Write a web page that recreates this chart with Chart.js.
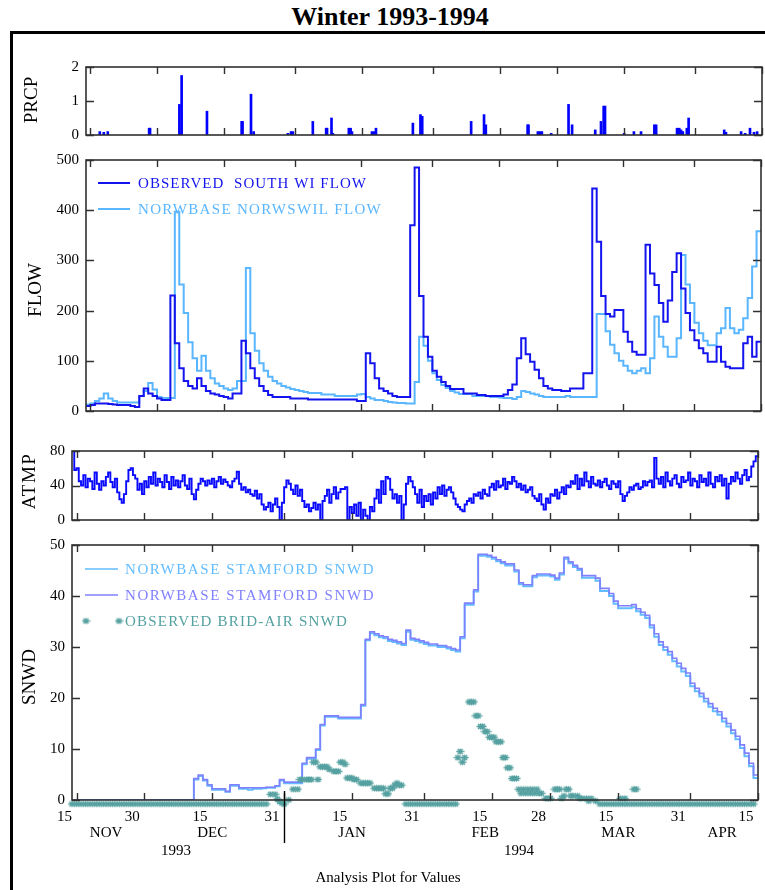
<!DOCTYPE html>
<html lang="en">
<head>
<meta charset="UTF-8">
<title>Winter 1993-1994</title>
<script src="https://cdn.jsdelivr.net/npm/chart.js"></script>
<style>
    body { margin: 0; background: #fff; width: 765px; height: 890px; overflow: hidden; position: relative; font-family: 'Liberation Serif', 'Times New Roman', serif; }
    canvas { position: absolute; left: 0; top: 0; }
    #frame { position: absolute; left: 10px; top: 31px; width: 820px; height: 900px; border-left: 3px solid #000; border-top: 3px solid #000; }
    #title { position: absolute; left: 0; top: 4px; width: 780px; text-align: center; font-weight: bold; font-size: 26px; line-height: 26px; }
    #caption { position: absolute; left: 0; top: 868px; width: 776px; text-align: center; font-size: 15px; line-height: 18px; }
</style>
</head>
<body>
<div id="frame"></div>
<div id="title">Winter 1993-1994</div>
<canvas id="prcpChart" width="765" height="890"></canvas>
<canvas id="flowChart" width="765" height="890"></canvas>
<canvas id="atmpChart" width="765" height="890"></canvas>
<canvas id="snwdChart" width="765" height="890"></canvas>
<div id="caption">Analysis Plot for Values</div>

<script>
    // x axis: days counted from Nov 15 1993 (0) to the end of Apr 15 1994 (152)
    const tickDays = [1, 16, 31, 47, 62, 78, 93, 106, 121, 137, 152];
    const tickLabels = ['15', '30', '15', '31', '15', '31', '15', '28', '15', '31', '15'];
    const months = ['NOV', 'DEC', 'JAN', 'FEB', 'MAR', 'APR'];
    const monthMid = [8, 31.5, 62.5, 92, 121.5, 144.5];
    const years = ['1993', '1994'];
    const yearMid = [23.5, 99.5];

    // precipitation events (day, inches)
    const prcpDay = [3.1, 4.0, 4.9, 14.2, 14.4, 21.0, 21.5, 27.2, 35.0, 35.2, 37.1, 37.7, 45.4, 46.1, 46.5, 51.0,
        54.0, 54.2, 55.2, 55.5, 59.1, 59.5, 59.8, 64.3, 64.8, 65.2, 73.5, 75.2, 75.6, 86.6, 89.5, 89.9, 99.3, 99.5,
        101.6, 102.1, 102.5, 104.6, 108.5, 109.3, 114.5, 115.8, 116.4, 116.7, 121.0, 123.2, 124.8, 127.8, 128.2,
        132.9, 133.4, 133.8, 134.2, 135.1, 135.5, 143.5, 143.9, 147.3, 148.2, 149.3, 150.2, 150.9];
    const prcpVal = [0.1, 0.08, 0.1, 0.2, 0.2, 0.9, 1.75, 0.7, 0.4, 0.4, 1.2, 0.1, 0.05, 0.1, 0.1, 0.4,
        0.2, 0.2, 0.5, 0.05, 0.2, 0.2, 0.1, 0.1, 0.1, 0.2, 0.35, 0.6, 0.55, 0.4, 0.6, 0.3, 0.3, 0.3,
        0.1, 0.1, 0.1, 0.05, 0.9, 0.3, 0.15, 0.4, 0.85, 0.85, 0.05, 0.1, 0.1, 0.3, 0.3,
        0.2, 0.2, 0.15, 0.1, 0.2, 0.5, 0.15, 0.08, 0.1, 0.05, 0.2, 0.08, 0.1];

    // daily flow, one value per day
    const flowObserved = [
        10, 12, 15, 15, 15, 14, 13, 12, 12, 12,
        10, 8, 30, 45, 35, 30, 25, 22, 22, 230,
        135, 85, 60, 50, 45, 65, 50, 40, 35, 33,
        30, 28, 25, 35, 35, 140, 115, 85, 65, 50,
        40, 32, 28, 28, 28, 28, 25, 25, 25, 25,
        23, 23, 23, 23, 23, 23, 23, 23, 23, 23,
        23, 20, 20, 115, 95, 65, 45, 40, 35, 30,
        28, 28, 28, 370, 485, 229, 148, 108, 80, 68,
        58, 50, 44, 44, 44, 35, 35, 35, 32, 32,
        30, 30, 30, 30, 33, 42, 53, 105, 145, 113,
        98, 82, 65, 50, 45, 42, 42, 40, 40, 45,
        45, 45, 75, 75, 443, 337, 229, 193, 188, 201,
        201, 158, 138, 118, 112, 112, 331, 274, 251, 215,
        178, 220, 277, 314, 244, 195, 161, 141, 125, 115,
        98, 98, 128, 98, 88, 85, 85, 85, 135, 148,
        108, 138];
    const flowNorwbase = [
        13, 15, 20, 25, 35, 25, 20, 17, 17, 17,
        17, 17, 30, 40, 56, 43, 28, 26, 26, 26,
        397, 252, 195, 137, 105, 80, 110, 80, 65, 55,
        50, 45, 42, 45, 60, 60, 285, 155, 120, 95,
        80, 68, 60, 55, 50, 47, 44, 42, 40, 38,
        36, 36, 36, 33, 33, 33, 30, 30, 30, 30,
        30, 33, 34, 28, 25, 22, 22, 20, 18, 17,
        16, 16, 15, 15, 58, 148, 130, 100, 75, 62,
        52, 46, 40, 37, 34, 34, 34, 30, 30, 30,
        30, 28, 28, 27, 26, 26, 24, 28, 40, 38,
        35, 33, 30, 28, 28, 28, 28, 28, 30, 28,
        28, 28, 28, 28, 28, 193, 193, 159, 132, 115,
        100, 90, 80, 75, 80, 85, 75, 105, 188, 148,
        128, 108, 108, 145, 311, 252, 215, 176, 155, 140,
        131, 131, 155, 165, 205, 165, 155, 162, 185, 225,
        288, 358];

    // air temperature, two readings per day
    const atmp = [
        80, 58, 60, 45, 40, 52, 38, 48, 45, 36, 55, 42, 35, 45, 40, 50, 55, 44, 38, 48,
        32, 24, 20, 30, 45, 58, 60, 52, 48, 35, 42, 30, 45, 38, 50, 42, 55, 40, 48, 44,
        38, 52, 44, 36, 50, 40, 46, 38, 45, 52, 40, 36, 48, 30, 24, 35, 42, 48, 45, 40,
        46, 42, 48, 38, 45, 50, 42, 47, 44, 40, 38, 45, 48, 56, 42, 35, 38, 32, 35, 30,
        28, 34, 25, 30, 18, 12, 15, 20, 10, 18, 25, 15, 0, 20, 38, 46, 42, 35, 30, 40,
        28, 35, 22, 15, 18, 10, 14, 20, 12, 18, 0, 22, 28, 35, 20, 30, 38, 25, 32, 36,
        36, 38, 0, 15, 8, 18, 5, 20, 0, 12, 5, 0, 15, 10, 25, 35, 20, 45, 30, 50,
        48, 35, 25, 30, 20, 28, 0, 18, 42, 50, 45, 38, 30, 20, 35, 15, 28, 22, 30, 18,
        32, 25, 38, 30, 40, 28, 35, 38, 32, 25, 18, 15, 12, 10, 18, 22, 25, 20, 30, 28,
        32, 25, 35, 30, 28, 38, 42, 35, 45, 38, 40, 48, 36, 44, 42, 50, 45, 38, 42, 35,
        40, 32, 35, 38, 28, 25, 22, 30, 18, 12, 25, 20, 30, 28, 35, 25, 32, 38, 30, 40,
        38, 45, 42, 52, 36, 48, 40, 55, 45, 38, 50, 42, 40, 46, 38, 44, 48, 40, 36, 45,
        42, 38, 45, 30, 22, 28, 32, 38, 35, 40, 42, 36, 38, 45, 40, 44, 46, 38, 72, 48,
        42, 50, 38, 55, 45, 40, 48, 52, 42, 38, 50, 44, 46, 55, 40, 48, 45, 38, 52, 44,
        48, 40, 55, 42, 38, 50, 45, 52, 40, 48, 25, 42,
        50, 45, 55, 48, 42, 52, 58, 46, 50, 62, 68, 74];

    // snow depth, one value per day
    const snowStamfordA = [
        0, 0, 0, 0, 0, 0, 0, 0, 0, 0, 0, 0, 0, 0, 0, 0, 0, 0, 0, 0, 0, 0, 0, 0, 0, 0, 0,
        4.0, 4.7, 3.8, 2.8, 2.0, 2.0, 2.0, 1.6, 2.8, 2.8,
        2.2, 2.2, 2.0, 2.2, 2.2, 2.3, 2.4, 2.4, 2.7, 3.8,
        3.3, 3.3, 3.3, 3.3, 7.0, 8.1, 8.1, 9.8, 14.6, 16.3,
        16.3, 16.3, 16.0, 16.0, 16.0, 16.0, 16.0, 18.5, 31.3, 32.7,
        32.3, 31.9, 31.7, 31.2, 31.0, 30.7, 30.4, 33.0, 31.4, 31.2,
        30.9, 30.6, 30.3, 30.3, 30.0, 30.0, 29.7, 29.4, 29.1, 31.7,
        38.3, 38.3, 40.9, 47.9, 47.9, 47.7, 47.3, 46.8, 46.4, 46.0,
        46.0, 44.8, 42.3, 41.9, 41.9, 43.7, 44.0, 44.0, 44.0, 43.8,
        43.2, 44.2, 47.3, 46.4, 45.7, 45.1, 43.6, 43.6, 43.6, 43.0,
        41.0, 41.0, 40.0, 38.5, 37.6, 37.6, 37.6, 37.8, 37.0, 36.3,
        35.7, 33.8, 32.0, 30.4, 29.4, 28.5, 27.2, 26.2, 25.2, 24.3,
        22.3, 21.3, 20.3, 19.3, 18.3, 17.4, 16.7, 15.4, 14.4, 13.1,
        11.9, 10.2, 8.6, 6.6, 4.3];
    const snowStamfordB = [
        0, 0, 0, 0, 0, 0, 0, 0, 0, 0, 0, 0, 0, 0, 0, 0, 0, 0, 0, 0, 0, 0, 0, 0, 0, 0, 0,
        4.2, 4.9, 4.0, 3.0, 2.2, 2.2, 2.2, 1.7, 3.0, 3.0,
        2.4, 2.4, 2.4, 2.4, 2.4, 2.4, 2.5, 2.5, 2.8, 4.0,
        3.5, 3.5, 3.5, 3.5, 7.2, 8.3, 8.3, 10.0, 14.8, 16.5,
        16.5, 16.5, 16.2, 16.2, 16.2, 16.2, 16.2, 18.7, 31.5, 33.0,
        32.6, 32.2, 32.0, 31.5, 31.3, 31.0, 30.7, 33.3, 31.7, 31.5,
        31.2, 30.9, 30.6, 30.6, 30.3, 30.3, 30.0, 29.7, 29.4, 32.0,
        38.6, 38.6, 41.2, 48.2, 48.2, 48.0, 47.6, 47.1, 46.7, 46.3,
        46.3, 45.1, 42.6, 42.2, 42.2, 44.0, 44.3, 44.3, 44.3, 44.1,
        43.5, 44.5, 47.6, 46.7, 46.0, 45.4, 44.0, 44.0, 44.0, 43.5,
        41.5, 41.5, 40.5, 39.0, 38.1, 38.1, 38.1, 38.3, 37.5, 36.8,
        36.2, 34.3, 32.6, 31.0, 30.0, 29.1, 27.8, 26.8, 25.8, 24.9,
        22.9, 21.9, 20.9, 19.9, 18.9, 18.0, 17.3, 16.0, 15.0, 13.7,
        12.5, 10.8, 9.2, 7.2, 4.9];

    // observed snow depth: a daily reading plus extra readings
    const snowObsDaily = [
        0, 0, 0, 0, 0, 0, 0, 0, 0, 0, 0, 0, 0, 0, 0, 0, 0, 0, 0, 0, 0, 0,
        0, 0, 0, 0, 0, 0, 0, 0, 0, 0, 0, 0, 0, 0, 0, 0, 0, 0, 0, 0, 0, 0,
        1.9, 1.9, 0.5, 0, 0.8, 2.9, 2.9, 4.8, 4.8, 4.8,
        8.2, 7.3, 7.3, 6.8, 6.4, 6.4, 8.2, 5.1, 5.1, 4.8,
        4.1, 4.1, 4.1, 3.1, 3.1, 3.1, 2.0, 3.1, 4.1, 3.7,
        0, 0, 0, 0, 0, 0, 0, 0, 0, 0, 0, 0,
        10.3, 9.1, 20.0, 20.0, 17.3, 15.2, 14.2, 13.1, 12.2, 12.2,
        9.1, 7.1, 5.0, 2.9, 2.9, 2.9, 2.9, 2.9, 2.1, 1.1,
        1.1, 2.9, 2.9, 1.6, 2.9, 1.6, 1.6, 1.1, 1.1, 1.1, 0.6,
        0, 0, 0, 0, 0, 0, 0, 0, 0, 0, 0, 0, 0, 0, 0, 0, 0, 0,
        0, 0, 0, 0, 0, 0, 0, 0, 0, 0, 0, 0, 0, 0, 0, 0, 0];
    const snowObsExtraDay = [45.5, 46.5, 50.5, 52.5, 53.5, 54.5, 55.5, 56.5, 58.5, 59.5, 60.5, 61.5, 62.5,
        64.5, 65.5, 67.5, 68.5, 69.5, 70.5, 71.5, 72.5, 85.5, 86.5, 88.5, 89.5, 90.5, 91.5, 92.5, 93.5,
        94.5, 95.5, 96.5, 97.5, 98.5, 99.5, 100.5, 101.5, 102.5, 103.5, 105.5, 107.5, 108.5, 109.5,
        110.5, 112.5, 114.5, 121.5, 122.5, 124.5, 125];
    const snowObsExtraVal = [1.0, 0.2, 4.8, 4.8, 8.2, 4.8, 7.3, 7.3, 6.4, 8.2, 7.8, 5.1, 4.8,
        4.1, 4.1, 3.1, 3.1, 2.0, 3.1, 3.7, 3.7, 9.1, 8.2, 20.0, 17.3, 15.2, 14.2, 13.1, 13.1,
        12.2, 9.1, 7.1, 5.0, 5.0, 2.1, 2.1, 2.1, 2.1, 2.1, 1.1, 2.9, 1.1, 2.9,
        1.6, 1.1, 0.6, 1.1, 1.1, 2.9, 2.9];

    const SERIF = "'Liberation Serif', 'Times New Roman', serif";
    const obsBlue = '#1414ee';
    const lightBlue = '#5ab6ff';
    const snowLight = '#62bcff';
    const snowPurple = '#8080ff';
    const snowTeal = '#55a0a0';

    Chart.defaults.font.family = SERIF;
    Chart.defaults.font.size = 15;
    Chart.defaults.color = '#000';

    // asterisk marker, the glyph sits a bit below its point like the original plot
    function makeAsterisk(color) {
        const c = document.createElement('canvas');
        c.width = 9;
        c.height = 17;
        const g = c.getContext('2d');
        g.strokeStyle = color;
        g.lineWidth = 1.3;
        const cx = 4.5, cy = 12.5;
        g.beginPath();
        g.moveTo(cx - 4, cy); g.lineTo(cx + 4, cy);
        g.moveTo(cx, cy - 3); g.lineTo(cx, cy + 3);
        g.moveTo(cx - 2.5, cy - 2.5); g.lineTo(cx + 2.5, cy + 2.5);
        g.moveTo(cx + 2.5, cy - 2.5); g.lineTo(cx - 2.5, cy + 2.5);
        g.stroke();
        return c;
    }
    const star = makeAsterisk(snowTeal);

    function daily(vals, step) {
        const pts = vals.map((v, i) => ({ x: i * step, y: v }));
        pts.push({ x: vals.length * step, y: vals[vals.length - 1] });
        return pts;
    }

    function spacedText(ctx, text, x, y, width) {
        ctx.letterSpacing = '0px';
        const w = ctx.measureText(text).width;
        ctx.letterSpacing = ((width - w) / text.length).toFixed(2) + 'px';
        ctx.fillText(text, x, y);
        ctx.letterSpacing = '0px';
    }

    // box, inward ticks, axis title, legend and date labels of one panel
    const panelPlugin = {
        id: 'panel',
        afterDraw(chart, args, o) {
            const ctx = chart.ctx, a = chart.chartArea, xs = chart.scales.x, ys = chart.scales.y;
            ctx.save();
            ctx.strokeStyle = '#303030';
            ctx.lineWidth = 1.6;
            ctx.strokeRect(a.left, a.top, a.right - a.left, a.bottom - a.top);
            ctx.lineWidth = 1.4;
            ctx.beginPath();
            tickDays.forEach(d => {
                const x = Math.round(xs.getPixelForValue(d)) + 0.5;
                ctx.moveTo(x, a.top); ctx.lineTo(x, a.top + 7);
                ctx.moveTo(x, a.bottom); ctx.lineTo(x, a.bottom - 7);
            });
            ys.ticks.forEach(t => {
                const y = Math.round(ys.getPixelForValue(t.value)) + 0.5;
                ctx.moveTo(a.left, y); ctx.lineTo(a.left + 8, y);
                ctx.moveTo(a.right, y); ctx.lineTo(a.right - 8, y);
            });
            ctx.stroke();

            // axis title
            ctx.save();
            ctx.fillStyle = '#000';
            ctx.font = '19px ' + SERIF;
            ctx.textAlign = 'center';
            ctx.textBaseline = 'middle';
            ctx.letterSpacing = (o.titleSpacing || 0) + 'px';
            ctx.translate(o.titleX, o.titleY);
            ctx.rotate(-Math.PI / 2);
            ctx.fillText(o.title, 0, 0);
            ctx.restore();

            // legend
            (o.legend || []).forEach(it => {
                if (it.star) {
                    ctx.drawImage(star, it.x0 - 4.5, it.y - 12.5);
                    ctx.drawImage(star, it.x1 - 4.5, it.y - 12.5);
                } else {
                    ctx.strokeStyle = it.color;
                    ctx.lineWidth = it.width;
                    ctx.beginPath();
                    ctx.moveTo(it.x0, it.y); ctx.lineTo(it.x1, it.y);
                    ctx.stroke();
                }
                ctx.fillStyle = it.color;
                ctx.font = '15px ' + SERIF;
                ctx.textAlign = 'left';
                ctx.textBaseline = 'middle';
                spacedText(ctx, it.text, it.tx, it.y + 1, it.tw);
            });

            // months, years and the year divider under the last panel
            if (o.dates) {
                ctx.fillStyle = '#000';
                ctx.font = '15px ' + SERIF;
                ctx.textAlign = 'center';
                ctx.textBaseline = 'middle';
                months.forEach((m, i) => ctx.fillText(m, xs.getPixelForValue(monthMid[i]) - 2, a.bottom + 33));
                years.forEach((yv, i) => ctx.fillText(yv, xs.getPixelForValue(yearMid[i]) - 2, a.bottom + 51));
                const xd = Math.round(xs.getPixelForValue(47)) + 0.5;
                ctx.strokeStyle = '#000';
                ctx.lineWidth = 1.4;
                ctx.beginPath();
                ctx.moveTo(xd, a.bottom - 9); ctx.lineTo(xd, a.bottom + 43);
                ctx.stroke();
            }
            ctx.restore();
        }
    };

    function makePanel(id, box, yr, datasets, panelOpts, showX) {
        const xh = showX ? 30 : 0;
        return new Chart(document.getElementById(id), {
            type: 'line',
            data: { datasets: datasets },
            options: {
                responsive: false,
                animation: false,
                events: [],
                layout: { autoPadding: false, padding: { left: 0, top: box.top, right: 765 - box.right, bottom: 890 - box.bottom - xh } },
                elements: { point: { radius: 0 }, line: { tension: 0 } },
                plugins: { legend: { display: false }, tooltip: { enabled: false }, panel: panelOpts },
                scales: {
                    x: {
                        type: 'linear', min: 0, max: 152, display: showX, offset: false,
                        grid: { display: false, drawTicks: false },
                        border: { display: false },
                        afterBuildTicks: s => { s.ticks = tickDays.map(v => ({ value: v })); },
                        afterFit: s => { s.height = xh; s.paddingLeft = 0; s.paddingRight = 0; },
                        ticks: { autoSkip: false, maxRotation: 0, padding: 8, labelOffset: -12, callback: (v, i) => tickLabels[i] }
                    },
                    y: {
                        min: yr.min, max: yr.max,
                        grid: { display: false, drawTicks: false },
                        border: { display: false },
                        afterFit: s => { s.width = box.left; s.paddingTop = 0; s.paddingBottom = 0; },
                        ticks: { stepSize: yr.step, padding: 7 }
                    }
                }
            },
            plugins: [panelPlugin]
        });
    }

    // PRCP
    makePanel('prcpChart', { left: 86, right: 762, top: 67, bottom: 135 }, { min: 0, max: 2, step: 1 }, [
        { type: 'bar', data: prcpDay.map((d, i) => ({ x: d, y: prcpVal[i] })), backgroundColor: '#0000ff', borderWidth: 0, barThickness: 2 }
    ], { title: 'PRCP', titleX: 32, titleY: 100 }, false);

    // FLOW
    makePanel('flowChart', { left: 86, right: 761, top: 160, bottom: 411 }, { min: 0, max: 500, step: 100 }, [
        { data: daily(flowObserved, 1), borderColor: obsBlue, borderWidth: 2, stepped: true },
        { data: daily(flowNorwbase, 1), borderColor: lightBlue, borderWidth: 2, stepped: true }
    ], {
        title: 'FLOW', titleX: 36, titleY: 290,
        legend: [
            { color: obsBlue, width: 2, x0: 98, x1: 130, y: 183, text: 'OBSERVED  SOUTH WI FLOW', tx: 138, tw: 229 },
            { color: lightBlue, width: 2, x0: 98, x1: 130, y: 209, text: 'NORWBASE NORWSWIL FLOW', tx: 138, tw: 244 }
        ]
    }, false);

    // ATMP
    makePanel('atmpChart', { left: 72, right: 758, top: 451, bottom: 520 }, { min: 0, max: 80, step: 40 }, [
        { data: daily(atmp, 0.5), borderColor: '#0a0aff', borderWidth: 1.9, stepped: true }
    ], { title: 'ATMP', titleX: 30, titleY: 481, titleSpacing: 1.5 }, false);

    // SNWD
    const obsPoints = snowObsDaily.map((v, i) => ({ x: i, y: v }))
        .concat(snowObsExtraDay.map((d, i) => ({ x: d, y: snowObsExtraVal[i] })));
    makePanel('snwdChart', { left: 72, right: 758, top: 545, bottom: 800 }, { min: 0, max: 50, step: 10 }, [
        { data: obsPoints, showLine: false, pointStyle: star, pointRadius: 3, clip: false },
        { data: daily(snowStamfordB, 1), borderColor: snowPurple, borderWidth: 1.6, stepped: true },
        { data: daily(snowStamfordA, 1), borderColor: snowLight, borderWidth: 2, stepped: true }
    ], {
        title: 'SNWD', titleX: 30, titleY: 677, dates: true,
        legend: [
            { color: snowLight, width: 1.6, x0: 85, x1: 118, y: 569, text: 'NORWBASE STAMFORD SNWD', tx: 125, tw: 250 },
            { color: snowPurple, width: 1.6, x0: 85, x1: 118, y: 595, text: 'NORWBASE STAMFORD SNWD', tx: 125, tw: 250 },
            { star: true, color: snowTeal, x0: 86, x1: 119, y: 621, text: 'OBSERVED BRID-AIR SNWD', tx: 125, tw: 223 }
        ]
    }, true);
</script>
</body>
</html>
